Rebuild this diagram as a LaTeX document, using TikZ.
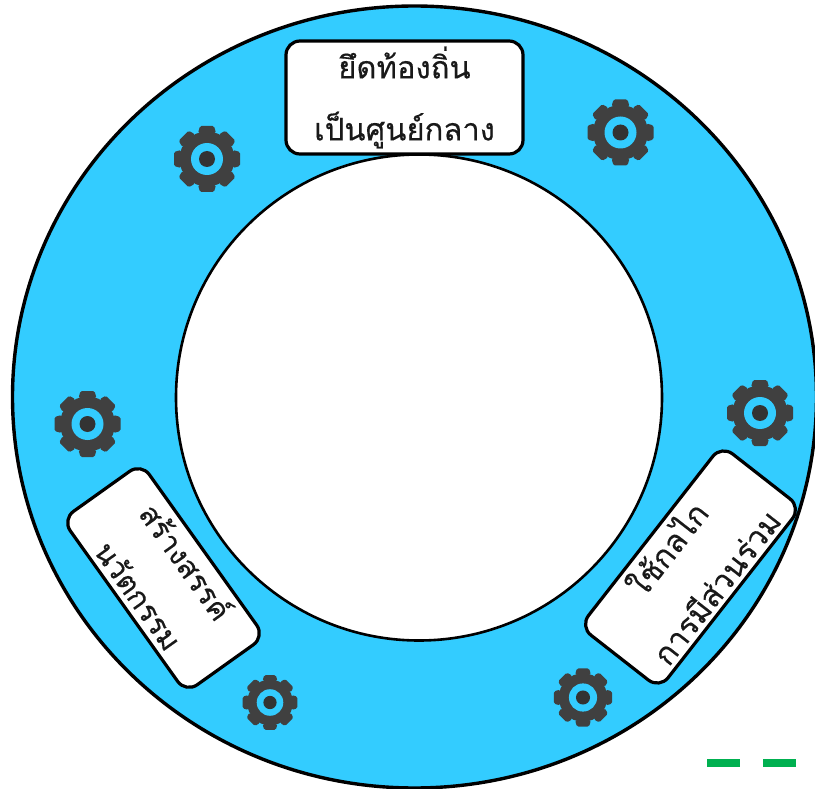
\documentclass[tikz,border=0pt]{standalone}
\usepackage{fontspec}
\newfontfamily\thaifont[Script=Thai,FakeBold=0.35]{Loma}
\definecolor{ringblue}{HTML}{33CCFF}
\definecolor{geargray}{HTML}{404040}
\definecolor{hubgray}{HTML}{333333}
\definecolor{dashgreen}{HTML}{00B050}
\usetikzlibrary{positioning, shapes.geometric}

\tikzset{
  disc/.style={ellipse, draw=black, inner sep=0pt},
  labelbox/.style={draw=black, fill=white, line width=3.2pt, rounded corners=14pt, inner sep=0pt,
    minimum width=#1, minimum height=113pt, align=center, text=black!90,
    font=\thaifont\fontsize{31}{62}\selectfont},
  dashmark/.style={fill=dashgreen, draw=none, inner sep=0pt, minimum width=33pt, minimum height=8pt},
  pics/gearwheel/.style={code={
    \foreach \a in {0,45,...,315}
      \fill[geargray, rotate=\a, rounded corners=1.5pt] (-9,-26) -- (-7,-33) -- (7,-33) -- (9,-26) -- cycle;
    \fill[geargray] (0,0) circle (27.5);
    \fill[ringblue] (0,0) circle (16);
    \fill[hubgray] (0,0) circle (8);
  }}
}

\begin{document}
\begin{tikzpicture}[x=1pt, y=-1pt]
    \useasboundingbox (0,0) rectangle (815,789);

    \node[disc, fill=ringblue, line width=3.4pt, minimum width=804pt, minimum height=782pt] (outer) at (414.5,397) {};
    \node[disc, fill=white, line width=2.6pt, minimum width=486pt, minimum height=486pt] (inner) at (419,397.5) {};

    \node[labelbox=237pt] (top) at (404.5,97.5) {ยึดท้องถิ่น\\เป็นศูนย์กลาง};
    \node[labelbox=213pt, minimum height=97pt, rotate=-54.5, font=\thaifont\fontsize{29.5}{58}\selectfont] (left) at (163.5,578) {สร้างสรรค์\\นวัตกรรม};
    \node[labelbox=230pt, minimum height=101pt, rotate=52] (right) at (690.5,567) {ใช้กลไก\\การมีส่วนร่วม};

    \pic at (207,159) {gearwheel};
    \pic at (620.5,132.5) {gearwheel};
    \pic at (87.5,424) {gearwheel};
    \pic at (760,413) {gearwheel};
    \pic[scale=0.83] at (270,702.5) {gearwheel};
    \pic[scale=0.88] at (583,697.5) {gearwheel};

    \node[dashmark] (dashA) at (723.5,763) {};
    \node[dashmark, right=23pt of dashA] (dashB) {};
\end{tikzpicture}
\end{document}
